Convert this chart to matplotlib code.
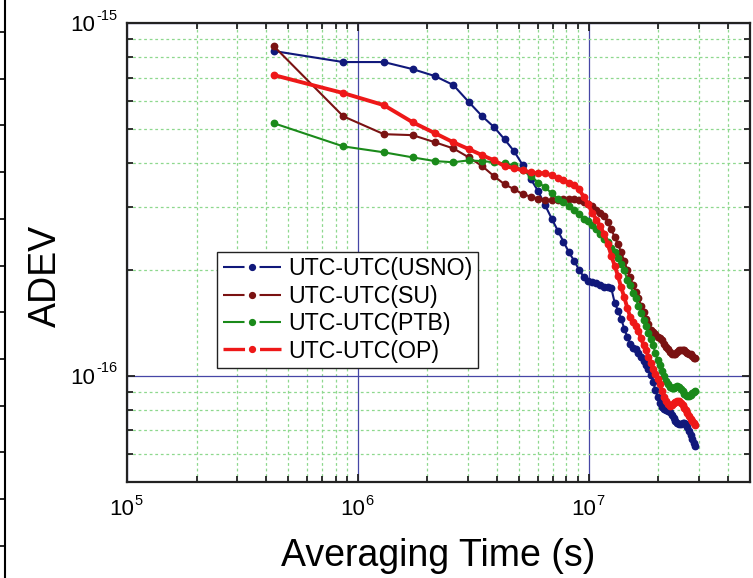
"""Allan deviation of UTC - UTC(k) for four timing labs (log-log)."""

import math

import matplotlib

matplotlib.use("Agg")
import matplotlib.pyplot as plt
import matplotlib.transforms as mtransforms
from matplotlib.lines import Line2D
from matplotlib.ticker import FixedLocator, LogLocator, NullFormatter

plt.rcParams["font.family"] = ["Liberation Sans", "DejaVu Sans"]
plt.rcParams["axes.unicode_minus"] = False
plt.rcParams["lines.scale_dashes"] = False

# Averaging times: multiples of the 5-day Circular T interval.
TAU_DAYS = [
    5, 10, 15, 20, 25, 30, 35, 40, 45, 50, 55, 60, 65, 70, 75, 80, 85,
    90, 95, 100, 105, 110, 115, 120, 125, 130, 135, 140, 145, 150, 155,
    160, 165, 170, 175, 180, 185, 190, 195, 200, 205, 210, 215, 220, 225,
    230, 235, 240, 245, 250, 255, 260, 265, 270, 275, 280, 285, 290, 295,
    300, 305, 310, 315, 320, 325, 330, 335,
]
SECONDS_PER_DAY = 86400

# ADEV, units of 1e-16.
ADEV_USNO = [
    8.33, 7.75, 7.75, 7.40, 7.07, 6.67, 5.97, 5.44, 5.07, 4.68,
    4.33, 3.95, 3.61, 3.33, 3.04, 2.79, 2.58, 2.40, 2.24, 2.12,
    2.00, 1.91, 1.86, 1.84, 1.83, 1.81, 1.79, 1.78, 1.77, 1.61,
    1.53, 1.45, 1.36, 1.29, 1.23, 1.20, 1.19, 1.16, 1.13, 1.10,
    1.075, 1.047, 1.007, 0.962, 0.913, 0.872, 0.838, 0.816, 0.806, 0.800,
    0.795, 0.790, 0.775, 0.760, 0.745, 0.735, 0.730, 0.730, 0.735, 0.735,
    0.730, 0.716, 0.698, 0.680, 0.662, 0.645, 0.633,
]
ADEV_SU = [
    8.60, 5.44, 4.84, 4.81, 4.59, 4.41, 4.16, 3.93, 3.68, 3.49,
    3.38, 3.27, 3.22, 3.18, 3.14, 3.14, 3.16, 3.18, 3.18, 3.17,
    3.15, 3.11, 3.06, 3.02, 2.96, 2.90, 2.83, 2.72, 2.60, 2.47,
    2.36, 2.24, 2.11, 2.00, 1.90, 1.81, 1.73, 1.66, 1.58, 1.52,
    1.45, 1.40, 1.35, 1.33, 1.31, 1.29, 1.28, 1.26, 1.23, 1.21,
    1.19, 1.17, 1.155, 1.155, 1.155, 1.17, 1.18, 1.18, 1.18, 1.18,
    1.17, 1.16, 1.155, 1.15, 1.14, 1.125, 1.12,
]
ADEV_PTB = [
    5.20, 4.47, 4.30, 4.16, 4.06, 4.03, 4.08, 4.06, 4.03, 4.00,
    3.95, 3.82, 3.68, 3.53, 3.42, 3.29, 3.18, 3.10, 3.02, 2.96,
    2.87, 2.79, 2.74, 2.67, 2.60, 2.53, 2.45, 2.39, 2.31, 2.24,
    2.16, 2.08, 1.99, 1.87, 1.81, 1.72, 1.66, 1.58, 1.51, 1.44,
    1.38, 1.32, 1.27, 1.22, 1.16, 1.11, 1.075, 1.033, 1.00, 0.968,
    0.949, 0.931, 0.925, 0.925, 0.931, 0.937, 0.931, 0.919, 0.907, 0.889,
    0.883, 0.877, 0.877, 0.883, 0.895, 0.901, 0.907,
]
ADEV_OP = [
    7.12, 6.33, 5.85, 5.23, 4.87, 4.59, 4.39, 4.22, 4.08, 3.93,
    3.88, 3.82, 3.77, 3.75, 3.75, 3.70, 3.63, 3.58, 3.53, 3.47,
    3.38, 3.22, 3.06, 2.90, 2.77, 2.65, 2.52, 2.37, 2.19, 2.05,
    1.92, 1.78, 1.67, 1.56, 1.47, 1.42, 1.38, 1.34, 1.28, 1.22,
    1.18, 1.13, 1.09, 1.047, 1.013, 0.981, 0.949, 0.907, 0.872, 0.849,
    0.833, 0.822, 0.827, 0.838, 0.844, 0.849, 0.849, 0.838, 0.827, 0.811,
    0.800, 0.785, 0.770, 0.755, 0.745, 0.735, 0.726,
]

LABELS = ["UTC-UTC(USNO)", "UTC-UTC(SU)", "UTC-UTC(PTB)", "UTC-UTC(OP)"]
COLORS = ["#10187a", "#7a1212", "#1a8a1a", "#ee1818"]
LINE_WIDTHS = [1.5, 1.5, 1.5, 2.8]
LEGEND_WIDTHS = [1.5, 1.5, 1.5, 2.4]

X_MAJOR = [1e5, 1e6, 1e7]
Y_MAJOR = [1e-16, 1e-15]

BASE_SIZE = 16
SUP_SIZE = 10.5


def power_labels(ax):
    """Origin-style 10^n labels: big mantissa, small raised exponent."""
    xt = mtransforms.blended_transform_factory(ax.transData, ax.transAxes)
    for v in X_MAJOR:
        exp = int(round(math.log10(v)))
        ax.annotate("10", (v, 0), xycoords=xt, xytext=(5.0, -23.8),
                    textcoords="offset points", ha="right", va="baseline",
                    fontsize=BASE_SIZE, annotation_clip=False)
        ax.annotate(str(exp), (v, 0), xycoords=xt, xytext=(5.4, -16.4),
                    textcoords="offset points", ha="left", va="baseline",
                    fontsize=SUP_SIZE, annotation_clip=False)
    yt = mtransforms.blended_transform_factory(ax.transAxes, ax.transData)
    for v in Y_MAJOR:
        exp = int(round(math.log10(v)))
        ax.annotate("10", (0, v), xycoords=yt, xytext=(-23.0, -6.0),
                    textcoords="offset points", ha="right", va="baseline",
                    fontsize=BASE_SIZE, annotation_clip=False)
        ax.annotate(str(exp), (0, v), xycoords=yt, xytext=(-22.4, 2.4),
                    textcoords="offset points", ha="left", va="baseline",
                    fontsize=SUP_SIZE, annotation_clip=False)


def draw(out_path: str = "out.png") -> None:
    fig = plt.figure(figsize=(7.53, 5.78), dpi=100)
    ax = fig.add_axes([0.1687, 0.1661, 0.8274, 0.7941])

    tau = [d * SECONDS_PER_DAY for d in TAU_DAYS]
    series = [ADEV_USNO, ADEV_SU, ADEV_PTB, ADEV_OP]
    for vals, color, lw in zip(series, COLORS, LINE_WIDTHS):
        ax.plot(tau, [v * 1e-16 for v in vals], color=color, lw=lw,
                marker="o", ms=4.6, mec=color, mfc=color)

    ax.set_xscale("log")
    ax.set_yscale("log")
    ax.set_xlim(1e5, 5e7)
    ax.set_ylim(5e-17, 1e-15)

    ax.xaxis.set_major_locator(FixedLocator(X_MAJOR))
    ax.yaxis.set_major_locator(FixedLocator(Y_MAJOR))
    for axis in (ax.xaxis, ax.yaxis):
        axis.set_major_formatter(NullFormatter())
        axis.set_minor_locator(LogLocator(base=10, subs=range(2, 10), numticks=12))
        axis.set_minor_formatter(NullFormatter())

    ax.set_axisbelow(True)
    ax.grid(True, which="minor", color="#8ed88e", linestyle=(0, (2, 2)), lw=0.9)
    ax.grid(True, which="major", color="#4646a6", linestyle="-", lw=0.9)

    ax.tick_params(which="both", direction="in", top=True, right=True,
                   width=1.3, colors="#222222")
    ax.tick_params(which="major", length=6)
    ax.tick_params(which="minor", length=4)
    for spine in ax.spines.values():
        spine.set_linewidth(1.6)
        spine.set_color("#222222")
    power_labels(ax)

    ax.set_xlabel("Averaging Time (s)", fontsize=27, va="center")
    ax.xaxis.set_label_coords(0.5, -0.162)
    ax.set_ylabel("ADEV", fontsize=27, va="center")
    ax.yaxis.set_label_coords(-0.13, 0.449)

    # legend keys drawn as "— • —", the line broken around the dot
    handles = [
        Line2D([], [], color=c, lw=lw, linestyle=(0, (15.5, 10.8)),
               marker="o", ms=4.2, mec=c, mfc=c)
        for c, lw in zip(COLORS, LEGEND_WIDTHS)
    ]
    leg = ax.legend(
        handles,
        LABELS,
        loc="upper left",
        bbox_to_anchor=(0.1445, 0.502),
        borderaxespad=0,
        fontsize=16.7,
        fancybox=False,
        framealpha=1,
        edgecolor="#222222",
        handlelength=2.5,
        handletextpad=0.3,
        labelspacing=0.19,
        borderpad=0.25,
        numpoints=1,
    )
    leg.get_frame().set_linewidth(1.0)

    # edge of the neighbouring panel, cut off at the left of the scan
    x0 = 4.5 / 753
    fig.add_artist(Line2D([x0, x0], [0, 1], transform=fig.transFigure,
                          color="black", lw=1.5))
    for k in range(12):
        y = 1 - (32 + 46.7 * k) / 578
        fig.add_artist(Line2D([0, x0], [y, y], transform=fig.transFigure,
                              color="black", lw=1.2))

    fig.savefig(out_path, dpi=100)
    plt.close(fig)


if __name__ == "__main__":
    draw()
